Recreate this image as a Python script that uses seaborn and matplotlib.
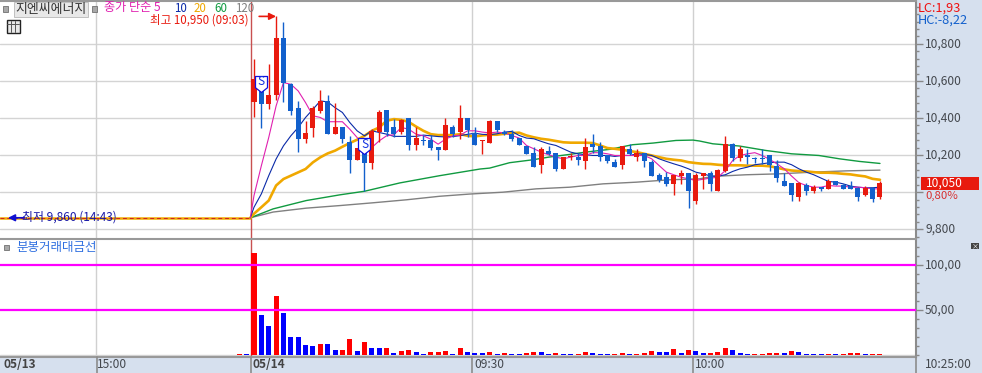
import numpy as np
import pandas as pd
import matplotlib
matplotlib.use('Agg')
import matplotlib.pyplot as plt
from matplotlib.path import Path
from matplotlib.ticker import FixedLocator, FuncFormatter
from matplotlib.transforms import ScaledTranslation
import seaborn as sns

# candle values
opens = [10487,10555,10476,10523,10829,10582,10453,10288,10347,10438,10490,10315,10351,10270,10175,10270,10159,10324,10442,10351,10324,10399,10254,10280,10283,10243,10229,10351,10326,10399,10318,
         10274,10267,10386,10324,10314,10294,10250,10213,10148,10224,10213,10126,10189,10191,10170,10261,10250,10202,10164,10148,10234,10191,10213,10164,10094,10083,10045,10087,10105,9954,
         10087,10105,10008,10116,10261,10186,10202,10178,10178,10202,10143,10062,10051,9975,10040,10008,10029,10018,10062,10040,10035,10024,9986,10024,9975]
highs = [10720,10600,10689,10952,10920,10591,10490,10383,10465,10549,10522,10480,10351,10302,10241,10270,10340,10442,10442,10397,10397,10399,10349,10310,10310,10243,10399,10361,10469,10399,10351,
         10279,10391,10386,10333,10333,10294,10250,10243,10243,10250,10213,10191,10213,10213,10294,10315,10272,10202,10180,10250,10261,10234,10213,10175,10105,10110,10094,10121,10105,10105,
         10105,10112,10125,10305,10265,10250,10234,10191,10234,10202,10175,10105,10051,10055,10051,10040,10029,10072,10062,10045,10062,10029,10035,10029,10062]
lows = [10405,10347,10447,10497,10487,10417,10218,10267,10299,10426,10315,10315,10267,10105,10175,10005,10125,10268,10304,10295,10313,10229,10229,10256,10229,10175,10229,10300,10286,10295,10256,
        10207,10267,10324,10306,10278,10256,10207,10137,10105,10202,10116,10126,10175,10148,10126,10213,10170,10159,10137,10126,10200,10170,10137,10089,10056,10035,9986,10045,9916,9937,
        10018,10008,10008,10110,10170,10170,10153,10159,10153,10116,10056,10035,9954,9954,9986,9998,10008,10018,10040,10018,10018,9954,9980,9948,9964]
closes = [10608,10476,10523,10829,10591,10438,10288,10318,10453,10492,10315,10351,10286,10175,10241,10159,10329,10431,10324,10313,10390,10254,10292,10275,10240,10227,10361,10313,10399,10335,10256,
          10274,10386,10337,10312,10288,10256,10207,10137,10234,10206,10126,10191,10189,10175,10245,10245,10191,10170,10137,10250,10207,10213,10170,10089,10067,10045,10094,10105,10008,10094,
          10105,10045,10121,10261,10186,10234,10188,10177,10177,10148,10078,10035,9986,10051,10008,10029,10018,10062,10040,10018,10018,9975,10024,9964,10051]

# moving averages, first point sits on the flat pre-open line
ma5 = [9862,9982,10143,10295,10465,10591,10582,10546,10483,10412,10403,10380,10380,10380,10340,10295,10250,10241,10277,10304,10310,10349,10340,10313,10304,10286,10259,10286,10304,10308,10331,10331,
       10324,10320,10324,10320,10306,10292,10252,10234,10216,10202,10189,10180,10189,10198,10198,10213,10213,10207,10198,10198,10198,10198,10198,10180,10144,10108,10094,10081,10072,10063,
       10070,10076,10081,10117,10171,10198,10207,10213,10198,10177,10153,10126,10087,10051,10036,10027,10027,10036,10033,10033,10027,10027,10024,10018,10018]
ma10 = [9862,9919,9991,10089,10179,10250,10304,10349,10403,10447,10492,10487,10456,10430,10376,10331,10304,10331,10322,10313,10301,10301,10301,10301,10308,10304,10300,10298,10300,10305,10312,10318,
        10312,10310,10315,10324,10328,10306,10292,10288,10274,10261,10252,10234,10216,10207,10202,10198,10198,10198,10193,10198,10198,10207,10204,10198,10180,10166,10153,10141,10126,10108,
        10099,10087,10087,10094,10112,10126,10135,10148,10153,10159,10162,10162,10148,10126,10108,10094,10076,10058,10054,10045,10033,10027,10024,10024,10027]
ma20 = [9862,9884,9919,9955,10036,10071,10089,10107,10125,10161,10188,10209,10224,10245,10265,10283,10304,10331,10349,10385,10394,10390,10379,10354,10331,10313,10308,10308,10308,10313,10304,10301,
        10306,10310,10310,10315,10319,10321,10306,10296,10288,10283,10276,10269,10267,10267,10267,10265,10252,10238,10234,10229,10222,10216,10207,10198,10189,10180,10175,10171,10162,10157,
        10153,10152,10148,10145,10145,10145,10143,10143,10143,10140,10132,10123,10117,10114,10112,10108,10105,10105,10103,10099,10096,10090,10085,10072,10067]
ma60_x = [-0.5,2.6,7.1,11.7,15,19.8,25.2,30.7,32,34.7,37.9,40,42.9,45,48.3,51.4,54.2,57.3,59.6,60.5,62.3,65.9,69.5,73,76.7,79.5,82.2,85]
ma60 = [9862,9910,9955,9986,10005,10050,10089,10125,10130,10159,10175,10189,10204,10216,10231,10256,10265,10279,10281,10276,10261,10249,10225,10207,10198,10180,10166,10155]
ma120_x = [-0.5,2.6,7.1,11.7,16.2,20.7,25.2,29.3,33.8,38.3,42.9,47.4,51.9,56.4,60.5,62.3,66.8,71.3,75.8,80.4,85]
ma120 = [9862,9893,9914,9928,9943,9959,9978,9990,10000,10018,10027,10045,10054,10067,10072,10085,10094,10099,10108,10115,10119]

# volume-amount bars, two tiny ones before the open
vol_x = list(range(-2, 86))
vol = [0.8,0.8,
       113.7,44.8,32.6,65.9,47,20.4,20.4,11.5,10.4,12.6,12.6,5.9,5.9,18.1,4.8,14.8,8,8,8,2.6,4.8,5.9,3.7,1.6,3.7,3.7,4.8,1.6,8,3.7,2.6,2.6,3.7,1.6,2.6,1.6,1.6,2.6,3.7,3.7,1.6,2.6,1.6,1.6,
       1.6,3.7,2.6,1.6,1.6,1.6,2.6,1.6,1.6,2.6,4.8,3.7,3.7,7,2.6,5.9,4.8,2.6,2.6,3.7,8,5.9,2.6,1.6,1.6,1.6,2.6,2.6,2.6,4.8,3.7,1.6,0.6,0.6,1.6,0.6,0.6,2.6,2.6,1.6,1.6,1.6]
vol_side = list('rb' 'rbbrbbbbbrbbrrbrbbrbrrbbrrrbrbbbrbrbbrrbbrbb' 'rrbbbrrbrrrbbrbrbbrrrbbbrrrrbrbbbbrbrrrbrr')

price_ticks = [9800, 10000, 10200, 10400, 10600, 10800]
vol_ticks = [50, 100]

RED = '#E81A0E'
BLUE = '#1260CC'
BG = '#D6E0EE'
W, H = 982, 373
TX = '#44484E'

sns.set_theme(style='white')
plt.rcParams['font.family'] = ['Noto Sans CJK KR', 'DejaVu Sans']

fig = plt.figure(figsize=(W / 100, H / 100), dpi=100, facecolor=BG)
ax = fig.add_axes([0, (H - 238) / H, 916 / W, 237 / H])
ax2 = fig.add_axes([0, (H - 357) / H, 916 / W, 118 / H], sharex=ax)

def px_text(x, y, s, **kw):
    kw.setdefault('fontsize', 8.6)
    kw.setdefault('va', 'center')
    return fig.text(x / W, 1 - y / H, s, **kw)

candles = pd.DataFrame({'i': range(len(opens)), 'o': opens, 'h': highs, 'l': lows, 'c': closes})
candles['color'] = np.where(candles.c >= candles.o, RED, BLUE)

# price panel
ax.set_xlim(-34.49, 89.89)
ax.set_ylim(9753, 11031)
for p in price_ticks:
    ax.axhline(p, color='#D4D4D4', lw=1.0, zorder=1)
for a in (ax, ax2):
    for v in (-21.4, 29.6, 59.6):
        a.axvline(v, color='#D0D0D0', lw=1.0, zorder=1)
    a.axvline(-0.45, color='#C85050', lw=1.0, zorder=1.5)

# flat line before the open
ax.plot([-34.49, -0.5], [9862, 9862], color='#F0A800', lw=1.8, zorder=2)
ax.plot([-34.49, -0.5], [9862, 9862], color='#D02020', lw=0.7, ls=(0, (4, 3)), zorder=2.1)

ma_x = [-0.5] + list(range(86))
lines = [(ma120_x, ma120, '#808080', 1.0), (ma60_x, ma60, '#109A40', 1.0),
         (ma_x, ma20, '#F0A800', 1.9), (ma_x, ma10, '#0A2AA8', 0.8), (ma_x, ma5, '#E020B0', 0.8)]
for xs, ys, col, lw in lines:
    sns.lineplot(x=xs, y=ys, ax=ax, color=col, lw=lw, zorder=2.5, estimator=None, sort=False)

ax.vlines(candles.i, candles.l, candles.h, colors=candles.color, lw=1.0, zorder=3)
ax.bar(candles.i, (candles.c - candles.o).abs().clip(lower=6), bottom=candles[['o', 'c']].min(axis=1),
       width=0.68, color=candles.color, edgecolor='none', linewidth=0, zorder=3.1)

# S signal markers
sig = Path([(-0.75, 1), (0.75, 1), (0.75, -0.4), (0, -1), (-0.75, -0.4), (-0.75, 1)], closed=True)
for i, p in [(1, 10585), (15, 10247)]:
    ax.scatter([i], [p], marker=sig, s=133, facecolor='white', edgecolor='#1010E0', lw=0.9, zorder=4)
    ax.text(i, p + 12, 'S', color='#1030E0', fontsize=8.5, ha='center', va='center', zorder=5)

# high / low annotations
ax.annotate('', xy=(3.0, 10948), xytext=(0.7, 10948),
            arrowprops=dict(arrowstyle='-|>', color=RED, lw=1.2, mutation_scale=10, shrinkA=0, shrinkB=0), zorder=5)
ax.annotate('', xy=(-33.4, 9862), xytext=(-31.2, 9862),
            arrowprops=dict(arrowstyle='-|>', color='#1010D0', lw=1.2, mutation_scale=10, shrinkA=0, shrinkB=0), zorder=5)
px_text(150, 20, '최고 10,950 (09:03)', color=RED, fontsize=8.3, zorder=6)
px_text(22, 217, '최저 9,860 (14:43)', color='#1A1AA8', zorder=6)

# volume panel
vdf = pd.DataFrame({'x': vol_x, 'v': vol, 'side': vol_side})
sns.barplot(data=vdf, x='x', y='v', hue='side', palette={'r': '#FF0000', 'b': '#0000FF'},
            native_scale=True, dodge=False, width=0.68, legend=False, ax=ax2, zorder=3, saturation=1,
            edgecolor='none', linewidth=0)
ax2.set_xlim(-34.49, 89.89)
ax2.set_ylim(-2.2, 128.9)
ax2.set_xlabel('')
ax2.set_ylabel('')
ax2.axhline(0, color='#D4D4D4', lw=1.0, zorder=1)
for v in vol_ticks:
    ax2.axhline(v, color='#FF00FF', lw=1.6, zorder=4)

# axes on the right, the 10,000 label sits under the price box in the original
ax.yaxis.tick_right()
ax.yaxis.set_major_locator(FixedLocator(price_ticks))
ax.yaxis.set_minor_locator(FixedLocator(list(range(9760, 11020, 40))))
ax.yaxis.set_major_formatter(FuncFormatter(lambda v, _: '' if int(v) == 10000 else f'{int(v):,}'))
ax2.yaxis.tick_right()
ax2.yaxis.set_major_locator(FixedLocator(vol_ticks))
ax2.yaxis.set_minor_locator(FixedLocator(list(range(0, 130, 10))))
ax2.yaxis.set_major_formatter(FuncFormatter(lambda v, _: f'{int(v)},00'))
for a in (ax, ax2):
    a.tick_params(axis='y', which='major', length=5, width=1, color='#888888', labelcolor=TX, labelsize=8.6, pad=1.5, right=True)
    a.tick_params(axis='y', which='minor', length=2.5, width=1, color='#888888', right=True)
    a.tick_params(axis='x', bottom=False, labelbottom=False)
    for s in a.spines.values():
        s.set_visible(False)
    a.spines['right'].set_visible(True)
    a.spines['right'].set_color('#8C8C8C')
    a.spines['right'].set_linewidth(1.5)
    a.spines['top'].set_visible(True)
    a.spines['top'].set_color('#999999')
    a.spines['top'].set_linewidth(1.5)
ax2.spines['bottom'].set_visible(True)
ax2.spines['bottom'].set_color('#999999')
ax2.spines['bottom'].set_linewidth(1.5)

# nudge the right hand labels up a little, this font sits low
fig.canvas.draw()
for a in (ax, ax2):
    for lab in a.get_yticklabels():
        lab.set_transform(lab.get_transform() + ScaledTranslation(0, 1.5 / 100, fig.dpi_scale_trans))

# bottom time strip
for x in [96.5, 251, 472, 693, 916]:
    fig.add_artist(plt.Line2D([x / W, x / W], [0, 16 / H], color='#8C8C8C', lw=1.2))
px_text(3, 365, '05/13', color='#444444', fontweight='bold')
px_text(97, 365, '15:00', color=TX)
px_text(253, 365, '05/14', color='#444444', fontweight='bold')
px_text(474, 365, '09:30', color=TX)
px_text(695, 365, '10:00', color=TX)
px_text(925, 365, '10:25:00', color=TX)

# legend strip at the top left
px_text(15, 9.5, '지엔씨에너지', color='#333333', fontsize=9.3,
        bbox=dict(boxstyle='square,pad=0.1', fc='#E8E8E8', ec='#C0C0C0', lw=0.7))
for x, y in [(5.5, 9), (94, 9), (6.5, 247)]:
    fig.add_artist(plt.Rectangle(((x - 2.5) / W, 1 - (y + 2.5) / H), 5 / W, 5 / H, fc='#A8A8A8', ec='#707070', lw=0.6))
fig.add_artist(plt.Rectangle((6.5 / W, 1 - 33 / H), 13 / W, 13 / H, fc='#E8E8E8', ec='#222222', lw=1.0))
for f in (10.5, 15):
    fig.add_artist(plt.Line2D([f / W, f / W], [1 - 32 / H, 1 - 21 / H], color='#555555', lw=0.7))
fig.add_artist(plt.Line2D([7 / W, 19 / W], [1 - 24 / H, 1 - 24 / H], color='#555555', lw=0.7))
px_text(104, 8, '종가 단순 5', color='#E020B0', fontsize=8.7)
px_text(174, 8, '10', color='#0A2AA8', fontsize=8.3)
px_text(194, 8, '20', color='#F0A800', fontsize=8.3)
px_text(214, 8, '60', color='#109A40', fontsize=8.3)
px_text(235, 8, '120', color='#808080', fontsize=8.3)
px_text(16, 247, '분봉거래대금선', color='#3070E0', fontsize=9)

# right side readouts
px_text(918, 8, 'LC:1,93', color='#F01010', fontsize=9.2)
px_text(918, 20, 'HC:-8,22', color='#1260CC', fontsize=9.2)
fig.add_artist(plt.Rectangle((921 / W, 1 - 190 / H), 58 / W, 13 / H, fc=RED, ec='none'))
px_text(926, 183, '10,050', color='white')
px_text(925, 196, '0,80%', color='#D83030', fontsize=8.2)
fig.add_artist(plt.Rectangle((971 / W, 1 - 249 / H), 8 / W, 6 / H, fc='#444444', ec='none'))
px_text(975, 246, '×', color='white', fontsize=5, ha='center')

plt.savefig('out.png', dpi=100, facecolor=BG)
